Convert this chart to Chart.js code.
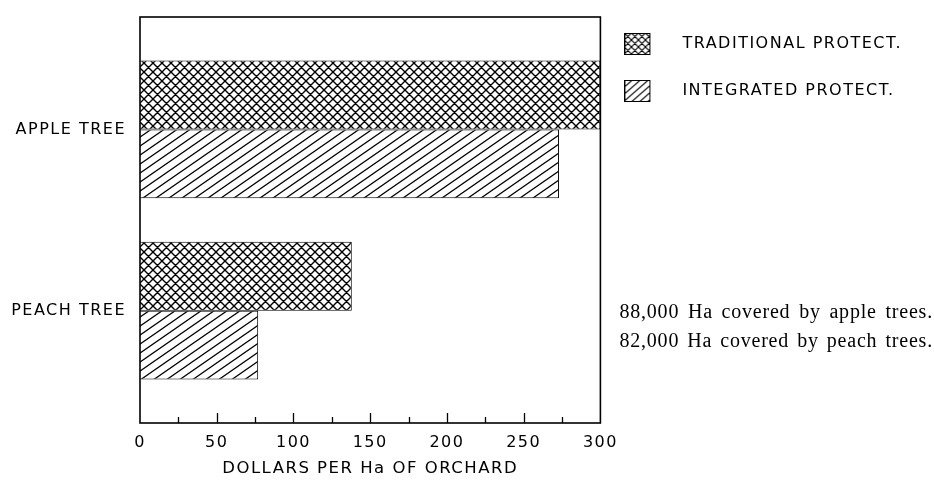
<!DOCTYPE html>
<html><head><meta charset="utf-8">
<script src="https://cdn.jsdelivr.net/npm/chart.js@4/dist/chart.umd.min.js"></script>
<style>html,body{margin:0;padding:0;background:#fff}canvas{display:block}</style>
</head><body>
<canvas id="c" width="934" height="486" style="width:934px;height:486px"></canvas>
<script>
const categories = ['APPLE TREE', 'PEACH TREE'];
const seriesNames = ['TRADITIONAL PROTECT.', 'INTEGRATED PROTECT.'];
const traditional = [300, 138];
const integrated = [273, 77];
const xMin = 0, xMax = 300, xStep = 25, xLabelStep = 50;
const xTitle = 'DOLLARS PER Ha OF ORCHARD';
const notes = ['88,000 Ha covered by apple trees.', '82,000 Ha covered by peach trees.'];

function hatchTile(w, h, cross, lw) {
  const c = document.createElement('canvas'); c.width = w; c.height = h;
  const g = c.getContext('2d');
  g.fillStyle = '#fff'; g.fillRect(0, 0, w, h);
  g.strokeStyle = '#000'; g.lineWidth = lw; g.lineCap = 'square';
  g.beginPath();
  for (let k = -1; k <= 1; k++) {
    g.moveTo(k * w, h); g.lineTo(k * w + w, 0);
    if (cross) { g.moveTo(k * w, 0); g.lineTo(k * w + w, h); }
  }
  g.stroke();
  return c;
}
function hatch(w, h, cross, lw) {
  const c = hatchTile(w, h, cross, lw);
  return c.getContext('2d').createPattern(c, 'repeat');
}
function swatch(pattern) {
  const c = document.createElement('canvas'); c.width = 57; c.height = 22;
  const g = c.getContext('2d');
  g.fillStyle = pattern; g.fillRect(0.5, 0.5, 25, 21);
  g.strokeStyle = '#000'; g.lineWidth = 1; g.strokeRect(0.5, 0.5, 25, 21);
  return c;
}
const crossPat = hatch(9, 9, true, 1.4);
const linePat = hatch(13, 9, false, 1.3);
const legendSwatches = [swatch(hatch(7, 7, true, 1.1)), swatch(hatch(8, 7, false, 1.1))];

const SANS = 'DejaVu Sans';
const spacingPlugin = {
  id: 'spacing',
  beforeUpdate(chart) { chart.ctx.letterSpacing = '1.5px'; },
  beforeLayout(chart) { chart.ctx.letterSpacing = '1.5px'; },
  beforeDraw(chart) {
    const ctx = chart.ctx;
    ctx.letterSpacing = '1.5px';
    ctx.save(); ctx.fillStyle = '#fff'; ctx.fillRect(0, 0, chart.width, chart.height); ctx.restore();
  }
};
const framePlugin = {
  id: 'frame',
  afterDatasetsDraw(chart) {
    const ctx = chart.ctx, a = chart.chartArea, xs = chart.scales.x;
    ctx.save();
    ctx.strokeStyle = '#000';
    ctx.lineWidth = 1.6;
    ctx.strokeRect(a.left, a.top, a.right - a.left, a.bottom - a.top);
    ctx.lineWidth = 1.3;
    ctx.beginPath();
    xs.ticks.forEach(t => {
      if (t.value <= xs.min || t.value >= xs.max) return;
      const px = Math.round(xs.getPixelForValue(t.value)) + 0.5;
      const len = t.value % xLabelStep === 0 ? 10 : 6;
      ctx.moveTo(px, a.bottom); ctx.lineTo(px, a.bottom - len);
    });
    ctx.stroke();
    ctx.restore();
  },
  afterDraw(chart) {
    const ctx = chart.ctx, a = chart.chartArea;
    ctx.save();
    ctx.letterSpacing = '0.8px';
    ctx.font = '20px "Liberation Serif"';
    ctx.fillStyle = '#000';
    ctx.textBaseline = 'middle';
    const x0 = a.right + 19, target = chart.width - 1 - x0;
    notes.forEach((t, i) => {
      ctx.wordSpacing = '0px';
      const w = ctx.measureText(t).width;
      const n = t.split(' ').length - 1;
      ctx.wordSpacing = Math.max(0, (target - w) / n) + 'px';
      ctx.fillText(t, x0, a.top + 296 + i * 29);
    });
    ctx.restore();
  }
};

new Chart(document.getElementById('c'), {
  type: 'bar',
  data: {
    datasets: [
      { label: seriesNames[0], data: traditional.map((v, i) => ({ x: v, y: i })),
        backgroundColor: crossPat, borderColor: '#000', borderWidth: 1 },
      { label: seriesNames[1], data: integrated.map((v, i) => ({ x: v, y: i })),
        backgroundColor: linePat, borderColor: '#000', borderWidth: 1 }
    ]
  },
  options: {
    indexAxis: 'y',
    responsive: false,
    animation: false,
    devicePixelRatio: 1,
    layout: { padding: { top: 5, right: 22, bottom: 0, left: 0 } },
    datasets: { bar: { barPercentage: 1, categoryPercentage: 0.76 } },
    scales: {
      x: {
        type: 'linear', position: 'bottom', min: xMin, max: xMax,
        grid: { display: false, drawTicks: false }, border: { display: false },
        ticks: { stepSize: xStep, autoSkip: false, maxRotation: 0, padding: 10, color: '#000',
          font: { family: SANS, size: 16 },
          callback: v => (v % xLabelStep === 0 ? String(v) : '') },
        title: { display: true, text: xTitle, color: '#000', font: { family: SANS, size: 16.5 },
          padding: { top: 4, bottom: 7 } },
        afterFit: s => { s.height = 63; }
      },
      y: {
        type: 'linear', reverse: true, min: -0.62, max: 1.62, offset: false, grace: 0,
        grid: { display: false, drawTicks: false, offset: false }, border: { display: false },
        afterBuildTicks: s => { s.ticks = categories.map((_, i) => ({ value: i })); },
        ticks: { padding: 14, color: '#000', font: { family: SANS, size: 16 },
          callback: v => (categories[v] !== undefined ? categories[v] : '') },
        afterFit: s => { s.width = 140; s.paddingTop = 0; s.paddingBottom = 0; }
      }
    },
    plugins: {
      title: { display: true, text: '', padding: 0, font: { size: 12, lineHeight: 1 } },
      tooltip: { enabled: false },
      legend: {
        position: 'right', align: 'start', maxWidth: 420,
        labels: {
          usePointStyle: true, pointStyleWidth: 43, boxHeight: 16, padding: 31, color: '#000',
          font: { family: SANS, size: 16 },
          generateLabels: chart => chart.data.datasets.map((d, i) => ({
            text: d.label, pointStyle: legendSwatches[i], fillStyle: '#fff', strokeStyle: '#000',
            lineWidth: 0, hidden: false, datasetIndex: i
          }))
        }
      }
    }
  },
  plugins: [spacingPlugin, framePlugin]
});
</script>
</body></html>
